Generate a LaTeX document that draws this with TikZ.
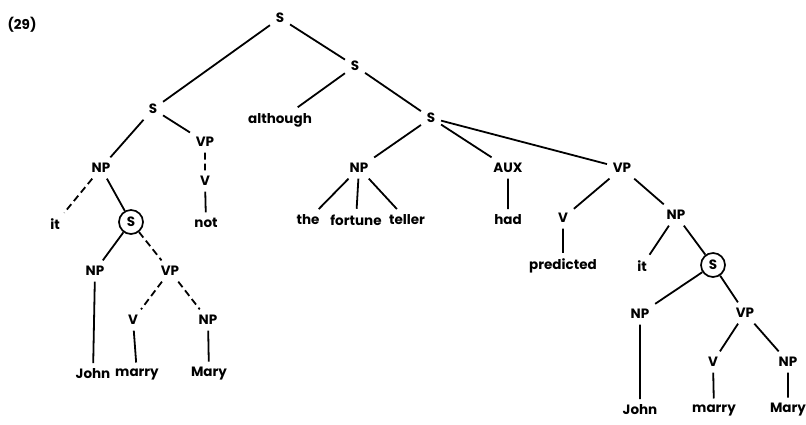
\documentclass[tikz,border=0pt]{standalone}
\usepackage{fontspec}
\setmainfont{Poppins}
\usetikzlibrary{positioning}
\begin{document}
\begin{tikzpicture}[x=1pt, y=-1pt, line width=1.8pt,
    every node/.style={font=\bfseries\fontsize{13.5}{15}\selectfont, inner sep=5pt},
    cyc/.style={circle, draw, inner sep=4pt, line width=1.7pt},
    faint/.style={dash pattern=on 7pt off 4pt}]
                        \useasboundingbox (0,0) rectangle (806,424);
                        \node (num) at (22,25) {(29)};
                        % top of the tree
                        \node (s0) at (280,18) {S};
                        \node (s1) at (355,66) {S};
                        \node (s2) at (153,109) {S};
                        \node (alth) at (280,120) {although};
                        \node (s3) at (431,118) {S};

                        % left clause
                        \node (np1) at (101,168) {NP};
                        \node (vp1) at (205,142) {VP};
                        \node (v1) at (205,181) {V};
                        \node (neg) at (206,223) {not};
                        \node (it1) at (55,224) {it};
                        \node[cyc] (s4) at (131,222) {S};
                        \node (np2) at (95,271) {NP};
                        \node (vp2) at (170,271) {VP};
                        \node (v2) at (133,320) {V};
                        \node (np3) at (208,320) {NP};
                        \node (john1) at (93,374) {John};
                        \node (marry1) at (137,374) {marry};
                        \node (mary1) at (209,374) {Mary};

                        % right clause
                        \node (np4) at (359,168) {NP};
                        \node (the) at (308,220) {the};
                        \node (fort) at (356,220) {fortune};
                        \node (tell) at (407,220) {teller};
                        \node (aux) at (508,168) {AUX};
                        \node (had) at (508,220) {had};
                        \node (vp3) at (622,168) {VP};
                        \node (v3) at (563,218) {V};
                        \node (pred) at (563,266) {predicted};
                        \node (np5) at (676,215) {NP};
                        \node (it2) at (642,266) {it};
                        \node[cyc] (s5) at (713,265) {S};
                        \node (np6) at (640,314) {NP};
                        \node (vp4) at (745,313) {VP};
                        \node (v4) at (713,362) {V};
                        \node (np7) at (788,362) {NP};
                        \node (john2) at (640,410) {John};
                        \node (marry2) at (714,410) {marry};
                        \node (mary2) at (788,410) {Mary};

                        \draw
                        (s0) -- (s2)
                        (s0) -- (s1)
                        (s1) -- (alth)
                        (s1) -- (s3)
                        (s2) -- (np1)
                        (s2) -- (vp1)
                        (v1) -- (neg)
                        (np1) -- (s4)
                        (s4) -- (np2)
                        (np2) -- (john1)
                        (v2) -- (marry1)
                        (np3) -- (mary1)
                        (s3) -- (np4)
                        (s3) -- (aux)
                        (s3) -- (vp3)
                        (np4) -- (the)
                        (np4) -- (fort)
                        (np4) -- (tell)
                        (aux) -- (had)
                        (vp3) -- (v3)
                        (vp3) -- (np5)
                        (v3) -- (pred)
                        (np5) -- (it2)
                        (np5) -- (s5)
                        (s5) -- (np6)
                        (s5) -- (vp4)
                        (np6) -- (john2)
                        (vp4) -- (v4)
                        (vp4) -- (np7)
                        (v4) -- (marry2)
                        (np7) -- (mary2);
                        \draw[faint]
                        (vp1) -- (v1)
                        (np1) -- (it1)
                        (s4) -- (vp2)
                        (vp2) -- (v2)
                        (vp2) -- (np3);
                    \end{tikzpicture}
\end{document}
